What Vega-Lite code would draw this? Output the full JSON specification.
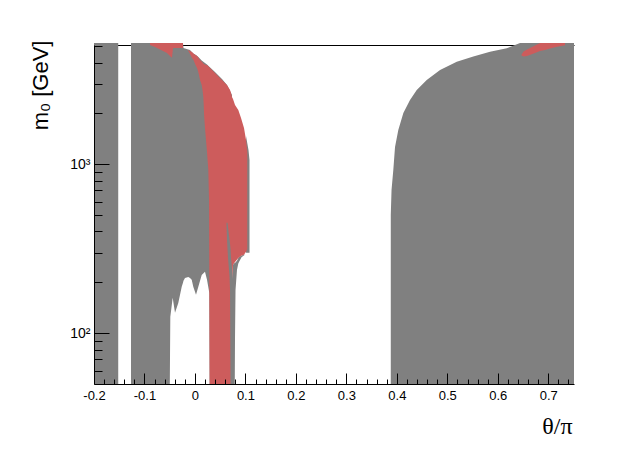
{
  "$schema": "https://vega.github.io/schema/vega-lite/v6.json",
  "width": 480,
  "height": 339,
  "autosize": "none",
  "padding": {"left": 94, "top": 45, "right": 62, "bottom": 68},
  "background": "white",
  "config": {
    "view": {"stroke": null},
    "axis": {"labelFont": "Liberation Sans", "titleFont": "Liberation Sans", "domainColor": "black", "tickColor": "black", "labelColor": "black", "titleColor": "black", "grid": false, "domainWidth": 1, "tickWidth": 1}
  },
  "datasets": {
    "gray": [
      {"s": "G1", "x": -0.2, "y": 5220, "y2": 50},
      {"s": "G1", "x": -0.152, "y": 5220, "y2": 50},
      {"s": "G2", "x": -0.1267, "y": 5220, "y2": 50},
      {"s": "G2", "x": -0.0498, "y": 5220, "y2": 50},
      {"s": "G2", "x": -0.0488, "y": 5220, "y2": 125},
      {"s": "G2", "x": -0.0441, "y": 5220, "y2": 162},
      {"s": "G2", "x": -0.0395, "y": 5220, "y2": 132},
      {"s": "G2", "x": -0.033, "y": 5220, "y2": 151},
      {"s": "G2", "x": -0.0262, "y": 5220, "y2": 188},
      {"s": "G2", "x": -0.0237, "y": 5220, "y2": 199},
      {"s": "G2", "x": -0.0227, "y": 4879, "y2": 204},
      {"s": "G2", "x": -0.0197, "y": 4850, "y2": 212},
      {"s": "G2", "x": -0.0132, "y": 4780, "y2": 215},
      {"s": "G2", "x": -0.0098, "y": 4743, "y2": 212},
      {"s": "G2", "x": -0.0064, "y": 4615, "y2": 207},
      {"s": "G2", "x": -0.0033, "y": 4525, "y2": 188},
      {"s": "G2", "x": 0.0021, "y": 4440, "y2": 169},
      {"s": "G2", "x": 0.0067, "y": 4320, "y2": 188},
      {"s": "G2", "x": 0.0134, "y": 4110, "y2": 221},
      {"s": "G2", "x": 0.0199, "y": 3970, "y2": 231},
      {"s": "G2", "x": 0.0239, "y": 3890, "y2": 207},
      {"s": "G2", "x": 0.0285, "y": 3780, "y2": 173},
      {"s": "G2", "x": 0.0291, "y": 3770, "y2": 50},
      {"s": "G2", "x": 0.0397, "y": 3518, "y2": 50},
      {"s": "G2", "x": 0.0536, "y": 3196, "y2": 50},
      {"s": "G2", "x": 0.0635, "y": 2946, "y2": 50},
      {"s": "G2", "x": 0.0734, "y": 2571, "y2": 50},
      {"s": "G4", "x": 0.0734, "y": 180, "y2": 50},
      {"s": "G4", "x": 0.0754, "y": 254, "y2": 50},
      {"s": "G4", "x": 0.0784, "y": 260, "y2": 50},
      {"s": "G4", "x": 0.0804, "y": 262, "y2": 180},
      {"s": "G4", "x": 0.0833, "y": 268, "y2": 237},
      {"s": "G4", "x": 0.0859, "y": 279, "y2": 258},
      {"s": "G4", "x": 0.0873, "y": 282, "y2": 264},
      {"s": "G4", "x": 0.0923, "y": 288, "y2": 281},
      {"s": "G4", "x": 0.0982, "y": 292, "y2": 290},
      {"s": "G5", "x": 0.1012, "y": 1470, "y2": 299},
      {"s": "G5", "x": 0.1037, "y": 1330, "y2": 299},
      {"s": "G5", "x": 0.1061, "y": 1215, "y2": 299},
      {"s": "G5", "x": 0.1081, "y": 1060, "y2": 299},
      {"s": "G3", "x": 0.388, "y": 500, "y2": 50},
      {"s": "G3", "x": 0.3895, "y": 704, "y2": 50},
      {"s": "G3", "x": 0.393, "y": 925, "y2": 50},
      {"s": "G3", "x": 0.3964, "y": 1265, "y2": 50},
      {"s": "G3", "x": 0.4029, "y": 1596, "y2": 50},
      {"s": "G3", "x": 0.4129, "y": 2012, "y2": 50},
      {"s": "G3", "x": 0.4261, "y": 2400, "y2": 50},
      {"s": "G3", "x": 0.4394, "y": 2752, "y2": 50},
      {"s": "G3", "x": 0.4592, "y": 3154, "y2": 50},
      {"s": "G3", "x": 0.4856, "y": 3615, "y2": 50},
      {"s": "G3", "x": 0.5187, "y": 4047, "y2": 50},
      {"s": "G3", "x": 0.5515, "y": 4337, "y2": 50},
      {"s": "G3", "x": 0.5846, "y": 4633, "y2": 50},
      {"s": "G3", "x": 0.6177, "y": 4855, "y2": 50},
      {"s": "G3", "x": 0.6441, "y": 5220, "y2": 50},
      {"s": "G3", "x": 0.751, "y": 5220, "y2": 50}
    ],
    "red": [
      {"s": "R1", "x": -0.089, "y": 5220, "y2": 5080},
      {"s": "R1", "x": -0.0791, "y": 5220, "y2": 4944},
      {"s": "R1", "x": -0.0752, "y": 5220, "y2": 4879},
      {"s": "R1", "x": -0.0732, "y": 5220, "y2": 4843},
      {"s": "R1", "x": -0.0692, "y": 5220, "y2": 4775},
      {"s": "R1", "x": -0.0554, "y": 5220, "y2": 4556},
      {"s": "R1", "x": -0.0464, "y": 5220, "y2": 4287},
      {"s": "R1", "x": -0.0455, "y": 5220, "y2": 4287},
      {"s": "R1", "x": -0.0435, "y": 5220, "y2": 4843},
      {"s": "R1", "x": -0.0425, "y": 5220, "y2": 4879},
      {"s": "R1", "x": -0.0237, "y": 5220, "y2": 4879},
      {"s": "R2", "x": -0.0132, "y": 4765, "y2": 4682},
      {"s": "R2", "x": -0.0118, "y": 4714, "y2": 4618},
      {"s": "R2", "x": -0.0078, "y": 4650, "y2": 4374},
      {"s": "R2", "x": -0.0058, "y": 4618, "y2": 4256},
      {"s": "R2", "x": -0.0029, "y": 4525, "y2": 4142},
      {"s": "R2", "x": 0.0011, "y": 4435, "y2": 3869},
      {"s": "R2", "x": 0.0041, "y": 4374, "y2": 3713},
      {"s": "R2", "x": 0.0061, "y": 4315, "y2": 3566},
      {"s": "R2", "x": 0.008, "y": 4227, "y2": 3377},
      {"s": "R2", "x": 0.01, "y": 4142, "y2": 3154},
      {"s": "R2", "x": 0.0134, "y": 4057, "y2": 2946},
      {"s": "R2", "x": 0.015, "y": 4002, "y2": 2752},
      {"s": "R2", "x": 0.0166, "y": 3949, "y2": 2502},
      {"s": "R2", "x": 0.0174, "y": 3932, "y2": 2243},
      {"s": "R2", "x": 0.018, "y": 3921, "y2": 1984},
      {"s": "R2", "x": 0.0199, "y": 3895, "y2": 1640},
      {"s": "R2", "x": 0.0219, "y": 3869, "y2": 1393},
      {"s": "R2", "x": 0.0239, "y": 3869, "y2": 1183},
      {"s": "R2", "x": 0.0265, "y": 3801, "y2": 925},
      {"s": "R2", "x": 0.0279, "y": 3765, "y2": 615},
      {"s": "R2", "x": 0.0291, "y": 3739, "y2": 50},
      {"s": "R2", "x": 0.0358, "y": 3566, "y2": 50},
      {"s": "R2", "x": 0.0437, "y": 3377, "y2": 50},
      {"s": "R2", "x": 0.0536, "y": 3154, "y2": 50},
      {"s": "R2", "x": 0.0635, "y": 2946, "y2": 50},
      {"s": "R2", "x": 0.0695, "y": 2752, "y2": 50},
      {"s": "R2", "x": 0.0715, "y": 2642, "y2": 50},
      {"s": "R2", "x": 0.0724, "y": 2571, "y2": 105},
      {"s": "R2", "x": 0.0734, "y": 2502, "y2": 180},
      {"s": "R2", "x": 0.0754, "y": 2435, "y2": 254},
      {"s": "R2", "x": 0.0794, "y": 2243, "y2": 264},
      {"s": "R2", "x": 0.0859, "y": 2096, "y2": 279},
      {"s": "R2", "x": 0.0913, "y": 1879, "y2": 287},
      {"s": "R2", "x": 0.0972, "y": 1640, "y2": 291},
      {"s": "R2", "x": 0.1012, "y": 1393, "y2": 303},
      {"s": "R2", "x": 0.1037, "y": 1183, "y2": 315},
      {"s": "R3", "x": 0.6471, "y": 4466, "y2": 4409},
      {"s": "R3", "x": 0.6511, "y": 4647, "y2": 4349},
      {"s": "R3", "x": 0.658, "y": 4775, "y2": 4379},
      {"s": "R3", "x": 0.6659, "y": 4912, "y2": 4466},
      {"s": "R3", "x": 0.6738, "y": 5045, "y2": 4556},
      {"s": "R3", "x": 0.6837, "y": 5220, "y2": 4679},
      {"s": "R3", "x": 0.6936, "y": 5220, "y2": 4743},
      {"s": "R3", "x": 0.7035, "y": 5220, "y2": 4843},
      {"s": "R3", "x": 0.7154, "y": 5220, "y2": 4944},
      {"s": "R3", "x": 0.7253, "y": 5220, "y2": 5011},
      {"s": "R3", "x": 0.7332, "y": 5220, "y2": 5058}
    ],
    "streak": [
      {"s": "S", "x": 0.0625, "y": 450, "y2": 443},
      {"s": "S", "x": 0.0635, "y": 450, "y2": 357},
      {"s": "S", "x": 0.0645, "y": 450, "y2": 315},
      {"s": "S", "x": 0.0655, "y": 426, "y2": 279},
      {"s": "S", "x": 0.0685, "y": 357, "y2": 217},
      {"s": "S", "x": 0.0695, "y": 338, "y2": 180},
      {"s": "S", "x": 0.0705, "y": 315, "y2": 50},
      {"s": "S", "x": 0.0715, "y": 279, "y2": 50},
      {"s": "S", "x": 0.0774, "y": 180, "y2": 50},
      {"s": "S", "x": 0.0784, "y": 105, "y2": 50}
    ]
  },
  "resolve": {"axis": {"x": "independent", "y": "independent"}},
  "layer": [
    {
      "data": {"name": "gray"},
      "mark": {"type": "area", "color": "#808080", "orient": "vertical", "clip": false},
      "encoding": {
        "x": {"field": "x", "type": "quantitative", "scale": {"domain": [-0.2, 0.751], "nice": false, "zero": false},
          "axis": {"orient": "bottom", "values": [-0.2, -0.1, 0, 0.1, 0.2, 0.3, 0.4, 0.5, 0.6, 0.7], "tickSize": -11, "labelPadding": 16, "labelExpr": "toString(round(datum.value*10)/10)", "labelFontSize": 13, "labelFlush": false, "labelOverlap": false, "labelBound": false, "title": "θ/π", "titleFont": "Liberation Serif", "titleFontSize": 24, "titleFontWeight": "normal", "titleAnchor": "end", "titleAlign": "right", "titleBaseline": "alphabetic", "titleX": 478, "titleY": 49, "zindex": 1}},
        "y": {"field": "y", "type": "quantitative", "stack": null, "scale": {"type": "log", "domain": [50, 5080], "nice": false},
          "axis": {"orient": "left", "values": [100, 1000], "tickSize": -15, "labelPadding": 19, "labelExpr": "datum.value == 100 ? '10²' : '10³'", "labelFontSize": 14, "title": "m₀ [GeV]", "titleFontSize": 22, "titleFontWeight": "normal", "titleAngle": -90, "titleAlign": "right", "titleBaseline": "middle", "titleX": -54, "titleY": -5, "zindex": 1}},
        "y2": {"field": "y2"},
        "detail": {"field": "s"}
      }
    },
    {
      "data": {"name": "red"},
      "mark": {"type": "area", "color": "#CD5C5C", "orient": "vertical", "clip": false},
      "encoding": {
        "x": {"field": "x", "type": "quantitative", "scale": {"domain": [-0.2, 0.751], "nice": false, "zero": false},
          "axis": {"orient": "bottom", "values": [-0.18, -0.16, -0.14, -0.12, -0.08, -0.06, -0.04, -0.02, 0.02, 0.04, 0.06, 0.08, 0.12, 0.14, 0.16, 0.18, 0.22, 0.24, 0.26, 0.28, 0.32, 0.34, 0.36, 0.38, 0.42, 0.44, 0.46, 0.48, 0.52, 0.54, 0.56, 0.58, 0.62, 0.64, 0.66, 0.68, 0.72, 0.74], "tickSize": -5, "labels": false, "domain": false, "title": null, "zindex": 1}},
        "y": {"field": "y", "type": "quantitative", "stack": null, "scale": {"type": "log", "domain": [50, 5080], "nice": false},
          "axis": {"orient": "left", "values": [60, 70, 80, 90, 200, 300, 400, 500, 600, 700, 800, 900, 2000, 3000, 4000, 5000], "tickSize": -8, "labels": false, "domain": false, "title": null, "zindex": 1}},
        "y2": {"field": "y2"},
        "detail": {"field": "s"}
      }
    },
    {
      "data": {"name": "streak"},
      "mark": {"type": "area", "color": "#808080", "orient": "vertical", "clip": false},
      "encoding": {
        "x": {"field": "x", "type": "quantitative", "scale": {"domain": [-0.2, 0.751], "nice": false, "zero": false},
          "axis": {"orient": "top", "ticks": false, "labels": false, "domain": true, "title": null, "zindex": 0}},
        "y": {"field": "y", "type": "quantitative", "stack": null, "scale": {"type": "log", "domain": [50, 5080], "nice": false}, "axis": null},
        "y2": {"field": "y2"}
      }
    }
  ]
}
